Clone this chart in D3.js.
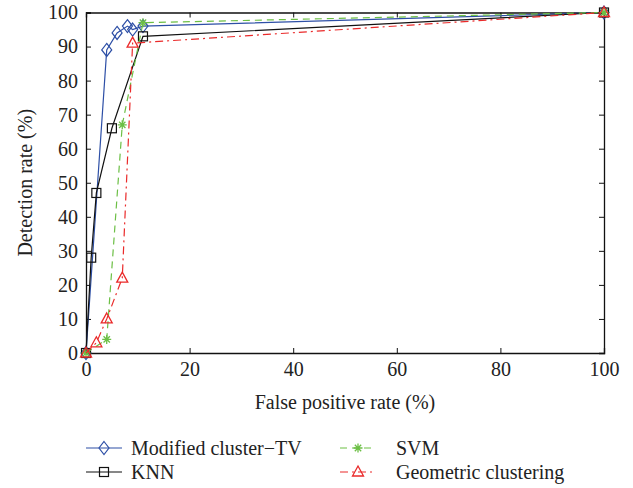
<!DOCTYPE html>
<html><head><meta charset="utf-8">
<script src="https://cdn.jsdelivr.net/npm/d3@7"></script>
<style>body{margin:0;background:#fff;}</style>
</head><body>
<svg id="c" width="633" height="488"></svg>
<script>
const seriesNames = ["Modified cluster\u2212TV", "KNN", "SVM", "Geometric clustering"];
const tvX = [0, 4, 6, 8, 9, 11, 100];
const tvY = [0, 89, 94, 96, 95, 96, 100];
const knnX = [0, 1, 2, 5, 11, 100];
const knnY = [0, 28, 47, 66, 93, 100];
const svmX = [0, 4, 7, 11, 100];
const svmY = [0, 4, 67, 97, 100];
const geoX = [0, 2, 4, 7, 9, 100];
const geoY = [0, 3, 10, 22, 91, 100];
const xTicks = [0, 20, 40, 60, 80, 100];
const yTicks = [0, 10, 20, 30, 40, 50, 60, 70, 80, 90, 100];

const FONT = '"Liberation Serif", serif';
const svg = d3.select("#c");
const L = 86, R = 604, T = 12.5, B = 353;
const x = d3.scaleLinear().domain([0, 100]).range([L, R]);
const y = d3.scaleLinear().domain([0, 100]).range([B, T]);
const FS = 20;

const series = [
  {name: seriesNames[0], xs: tvX, ys: tvY, color: "#2d4fa6", dash: null, marker: "diamond"},
  {name: seriesNames[1], xs: knnX, ys: knnY, color: "#111", dash: null, marker: "square"},
  {name: seriesNames[2], xs: svmX, ys: svmY, color: "#6cbf45", dash: "7,5", marker: "star"},
  {name: seriesNames[3], xs: geoX, ys: geoY, color: "#ea2a2a", dash: "8,4,2,4", marker: "triangle"}
];

const gx = svg.append("g").attr("transform", `translate(0,${B})`)
  .call(d3.axisBottom(x).tickValues(xTicks).tickSize(-5).tickPadding(9));
const gxt = svg.append("g").attr("transform", `translate(0,${T})`)
  .call(d3.axisTop(x).tickValues(xTicks).tickSize(-5).tickFormat(""));
const gy = svg.append("g").attr("transform", `translate(${L},0)`)
  .call(d3.axisLeft(y).tickValues(yTicks).tickSize(-5).tickPadding(8));
const gyr = svg.append("g").attr("transform", `translate(${R},0)`)
  .call(d3.axisRight(y).tickValues(yTicks).tickSize(-5).tickFormat(""));
[gx, gxt, gy, gyr].forEach(g => {
  g.attr("font-family", FONT).attr("font-size", FS);
  g.selectAll("path.domain").attr("stroke", "#111").attr("stroke-width", 1.3);
  g.selectAll("line").attr("stroke", "#111").attr("stroke-width", 1);
  g.selectAll("text").attr("fill", "#222");
});
gx.selectAll("text").attr("dy", "0.72em");

svg.append("text").attr("x", (L + R) / 2).attr("y", 409).attr("text-anchor", "middle")
  .attr("font-family", FONT).attr("font-size", FS).attr("fill", "#222").text("False positive rate (%)");
svg.append("text").attr("transform", `translate(32,${(T + B) / 2}) rotate(-90)`)
  .attr("text-anchor", "middle").attr("font-family", FONT).attr("font-size", FS).attr("fill", "#222")
  .text("Detection rate (%)");

function drawMarker(g, type, cx, cy, color) {
  if (type === "diamond") {
    g.append("path").attr("d", `M${cx},${cy - 6.5}L${cx + 5},${cy}L${cx},${cy + 6.5}L${cx - 5},${cy}Z`)
      .attr("fill", "none").attr("stroke", color).attr("stroke-width", 1.2);
  } else if (type === "square") {
    g.append("rect").attr("x", cx - 4.5).attr("y", cy - 4.5).attr("width", 9).attr("height", 9)
      .attr("fill", "none").attr("stroke", color).attr("stroke-width", 1.2);
  } else if (type === "triangle") {
    g.append("path").attr("d", `M${cx},${cy - 6}L${cx + 5.5},${cy + 4}L${cx - 5.5},${cy + 4}Z`)
      .attr("fill", "none").attr("stroke", color).attr("stroke-width", 1.3);
  } else if (type === "star") {
    const r = 4.5;
    let d = "";
    for (let k = 0; k < 4; k++) {
      const a = k * Math.PI / 4;
      d += `M${cx - r * Math.cos(a)},${cy - r * Math.sin(a)}L${cx + r * Math.cos(a)},${cy + r * Math.sin(a)}`;
    }
    g.append("path").attr("d", d).attr("stroke", color).attr("stroke-width", 1.3).attr("fill", "none");
  }
}

const line = d3.line().x(d => x(d[0])).y(d => y(d[1]));
series.forEach(s => {
  const pts = s.xs.map((v, i) => [v, s.ys[i]]);
  const g = svg.append("g");
  g.append("path").attr("d", line(pts)).attr("fill", "none").attr("stroke", s.color)
    .attr("stroke-width", 1.2).attr("stroke-dasharray", s.dash);
  pts.forEach(p => drawMarker(g, s.marker, x(p[0]), y(p[1]), s.color));
});

const legPos = [[86, 448], [86, 472], [340, 448], [340, 472]];
series.forEach((s, i) => {
  const [lx, ly] = legPos[i];
  const g = svg.append("g");
  g.append("line").attr("x1", lx).attr("x2", lx + 36).attr("y1", ly).attr("y2", ly)
    .attr("stroke", s.color).attr("stroke-width", 1.2).attr("stroke-dasharray", s.dash);
  drawMarker(g, s.marker, lx + 18, ly, s.color);
  g.append("text").attr("x", i < 2 ? lx + 45 : lx + 56).attr("y", ly).attr("dy", "0.35em")
    .attr("font-family", FONT).attr("font-size", FS).attr("fill", "#222").text(s.name);
});
</script>
</body></html>
